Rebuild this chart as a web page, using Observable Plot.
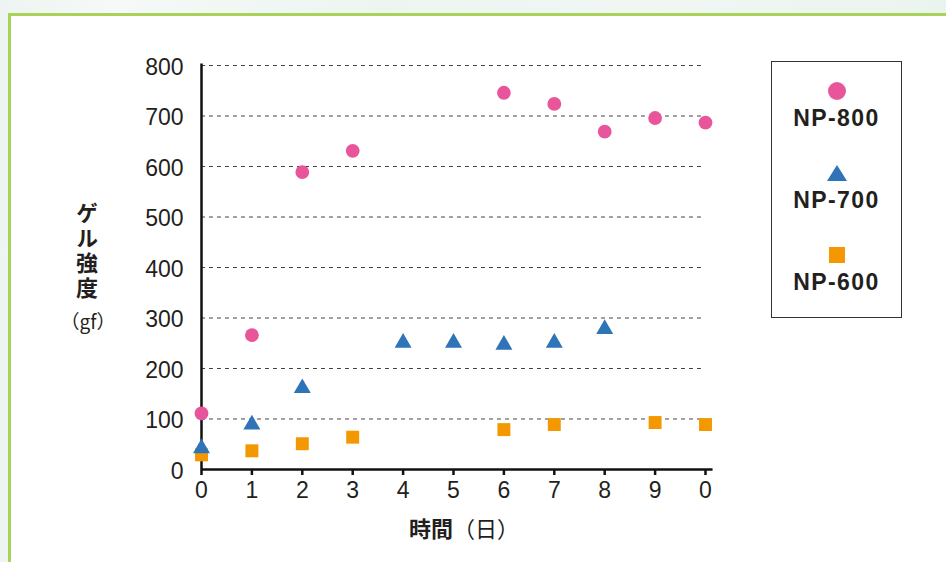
<!DOCTYPE html>
<html>
<head>
<meta charset="utf-8">
<script src="https://cdn.jsdelivr.net/npm/d3@7"></script>
<script src="https://cdn.jsdelivr.net/npm/@observablehq/plot@0.6"></script>
<style>
  html, body { margin: 0; padding: 0; }
  body { width: 946px; height: 562px; overflow: hidden;
    background: linear-gradient(90deg, #eef4f1 0%, #f6f9f7 12%, #edf5f1 40%, #f1f6f3 70%, #eaf4ef 100%); }
  #wrap { position: relative; width: 946px; height: 562px; }
  #frame { position: absolute; left: 8px; top: 13px; width: 950px; height: 560px;
    border-left: 3px solid #a9d25a; border-top: 3px solid #a9d25a; background: #fff; }
  #chart { position: absolute; left: 0; top: 0; }
  .jp { font-family: "Noto Sans CJK JP", sans-serif; color: #231f20; position: absolute; }
  #ylab { left: 75px; top: 202px; font-size: 22px; font-weight: 700; line-height: 24px;
    writing-mode: vertical-rl; text-orientation: upright; letter-spacing: 3px; }
  #yunit { left: 48px; top: 306px; width: 80px; text-align: center; font-size: 19px; font-weight: 400; line-height: 30px; white-space: nowrap; }
  #xlab { left: 364px; top: 512px; width: 200px; text-align: center; font-size: 22px; line-height: 30px; }
  #xlab b { font-weight: 700; }
  #legend { position: absolute; left: 771px; top: 61px; width: 129px; height: 255px; border: 1px solid #333; background: #fff; }
  .item { position: absolute; left: 0; width: 129px; text-align: center; }
  .item svg { display: block; margin: 0 auto; }
  .item .lbl { font-family: "Liberation Sans", Arial, sans-serif; font-weight: 700; font-size: 23px; color: #231f20; letter-spacing: 1.4px; line-height: 26px; margin-top: 4px; }
</style>
</head>
<body>
<div id="wrap">
  <div id="frame"></div>
  <div id="chart"></div>
  <div id="ylab" class="jp">ゲル強度</div>
  <div id="yunit" class="jp">（gf）</div>
  <div id="xlab" class="jp"><b>時間</b>（日）</div>
  <div id="legend"></div>
</div>
<script>
// ---- data ----
const seriesNames = ["NP-800", "NP-700", "NP-600"];
const seriesColors = ["#e9559b", "#2f73b9", "#f39800"];
const days800 = [0, 1, 2, 3, 6, 7, 8, 9, 10];
const np800   = [111, 266, 589, 631, 746, 724, 669, 696, 687];
const days700 = [0, 1, 2, 4, 5, 6, 7, 8];
const np700   = [42, 89, 161, 251, 251, 247, 251, 278];
const days600 = [0, 1, 2, 3, 6, 7, 9, 10];
const np600   = [29, 37, 51, 64, 79, 89, 93, 89];
const xTicks = [0, 1, 2, 3, 4, 5, 6, 7, 8, 9, 10];
const xTickLabels = ["0", "1", "2", "3", "4", "5", "6", "7", "8", "9", "0"];
const yTicks = [0, 100, 200, 300, 400, 500, 600, 700, 800];
const gridValues = [100, 200, 300, 400, 500, 600, 700, 800];

const toRows = (days, vals) => days.map((d, i) => ({day: d, value: vals[i]}));
const rows800 = toRows(days800, np800);
const rows700 = toRows(days700, np700);
const rows600 = toRows(days600, np600);

const chart = Plot.plot({
  width: 946,
  height: 562,
  marginLeft: 201,
  marginRight: 241,
  marginTop: 65,
  marginBottom: 93,
  style: { background: "transparent", fontFamily: "'Liberation Sans', Arial, sans-serif", color: "#231f20" },
  x: { domain: [0, 10] },
  y: { domain: [0, 800] },
  marks: [
    Plot.ruleY(gridValues, { x1: 0, x2: 10, stroke: "#444", strokeWidth: 1, strokeDasharray: "4,4" }),
    Plot.axisX({ ticks: xTicks, tickFormat: d => xTickLabels[xTicks.indexOf(d)], tickSize: 6, tickPadding: 6,
      fontSize: 23, stroke: "#111", strokeWidth: 2.5, fill: "#231f20", label: null }),
    Plot.axisY({ ticks: yTicks, tickSize: 0, tickPadding: 18, fontSize: 23, fill: "#231f20", label: null, dy: 2 }),
    Plot.ruleY([0], { x1: 0, x2: 10.15, stroke: "#111", strokeWidth: 2.5 }),
    Plot.ruleX([0], { y1: 0, y2: 803, stroke: "#111", strokeWidth: 2.5 }),
    Plot.dot(rows600, { x: "day", y: "value", symbol: "square", r: 7.3, fill: seriesColors[2], stroke: "none" }),
    Plot.dot(rows700, { x: "day", y: "value", symbol: "triangle", r: 6.3, fill: seriesColors[1], stroke: "none" }),
    Plot.dot(rows800, { x: "day", y: "value", symbol: "circle", r: 6.9, fill: seriesColors[0], stroke: "none" })
  ]
});
document.getElementById("chart").appendChild(chart);

// ---- legend ----
const legend = document.getElementById("legend");
const shapes = [
  '<svg width="20" height="20"><circle cx="10" cy="10" r="9" fill="' + seriesColors[0] + '"/></svg>',
  '<svg width="22" height="20"><polygon points="11,2 21,18 1,18" fill="' + seriesColors[1] + '"/></svg>',
  '<svg width="20" height="20"><rect x="2" y="2" width="16" height="16" fill="' + seriesColors[2] + '"/></svg>'
];
const tops = [19, 101, 183];
seriesNames.forEach((name, i) => {
  const d = document.createElement("div");
  d.className = "item";
  d.style.top = tops[i] + "px";
  d.innerHTML = shapes[i] + '<div class="lbl">' + name + '</div>';
  legend.appendChild(d);
});
</script>
</body>
</html>
